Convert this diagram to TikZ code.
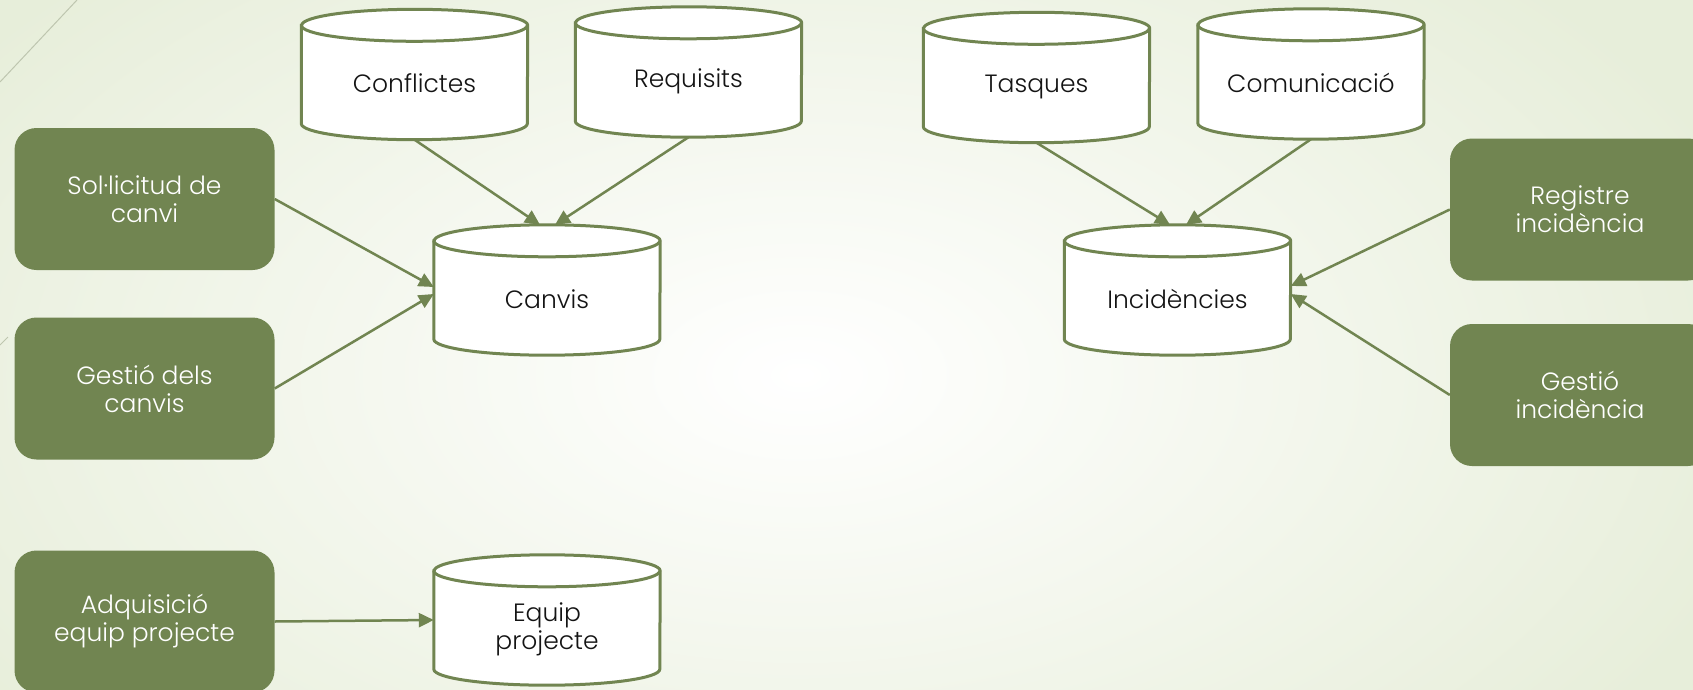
\documentclass[tikz,border=0pt]{standalone}
\usepackage{fontspec}
\setmainfont{Poppins}[UprightFont={* Light}]
\usetikzlibrary{arrows.meta,calc}
\definecolor{olivec}{RGB}{113,133,81}
\definecolor{bgc}{RGB}{231,238,218}
\definecolor{decoc}{RGB}{190,198,175}
\definecolor{txtc}{RGB}{20,20,20}
\pgfdeclarelayer{bglayer}
\pgfdeclarelayer{cyllayer}
\pgfsetlayers{bglayer,cyllayer,main}
\newcommand\drawcyl[1]{%
  \draw[cylline] ($(#1.north west)+(0,-16)$) -- ($(#1.south west)+(0,16)$)
    arc[start angle=180,end angle=360,x radius=113,y radius=16]
    -- ($(#1.north east)+(0,-16)$)
    arc[start angle=0,end angle=180,x radius=113,y radius=16] -- cycle;
  \draw[cylline,fill=none] ($(#1.north west)+(0,-16)$)
    arc[start angle=180,end angle=360,x radius=113,y radius=16];
}
\begin{document}
\begin{tikzpicture}[x=1pt,y=1pt,
  proc/.style={rectangle, rounded corners=22pt, fill=olivec, draw=none,
    minimum width=260pt, minimum height=142pt, inner sep=0pt,
    text=white, align=center, font=\fontsize{25}{28}\selectfont},
  db/.style={rectangle, draw=none, minimum width=226pt, minimum height=130pt, inner sep=0pt},
  dbtext/.style={yshift=-9pt, text=txtc, align=center, inner sep=0pt,
    font=\fontsize{25}{28}\selectfont},
  conn/.style={draw=olivec, line width=2.5pt, -{Triangle[length=15pt,width=14pt]}},
  cylline/.style={draw=olivec, line width=3pt, fill=white},
  deco/.style={draw=decoc, line width=1pt}]
\useasboundingbox (0,0) rectangle (1693,-690);
\begin{pgfonlayer}{bglayer}
  \shade[inner color=white, outer color=bgc] (-200,200) rectangle (1800,-950);
  \draw[deco] (77,0) -- (0,-82);
  \draw[deco] (8,-337) -- (0,-345);
\end{pgfonlayer}
\clip (0,0) rectangle (1693,-690);

% database cylinders
\node[db, label={[dbtext]center:Conflictes}] (conf) at (414.5,-74.5) {};
\node[db, label={[dbtext]center:Requisits}] (req) at (688.5,-72) {};
\node[db, label={[dbtext]center:Canvis}] (canvis) at (547,-290) {};
\node[db, label={[dbtext]center:Tasques}] (tasq) at (1036.5,-77.5) {};
\node[db, label={[dbtext]center:Comunicació}] (com) at (1311,-74) {};
\node[db, label={[dbtext]center:Incidències}] (inc) at (1177.5,-290) {};
\node[db, label={[dbtext]center:Equip\\projecte}] (equip) at (547,-620) {};

\begin{pgfonlayer}{cyllayer}
  \drawcyl{conf}
  \drawcyl{req}
  \drawcyl{canvis}
  \drawcyl{tasq}
  \drawcyl{com}
  \drawcyl{inc}
  \drawcyl{equip}
\end{pgfonlayer}

% process boxes
\node[proc] (sol) at (144.5,-199) {Sol·licitud de\\canvi};
\node[proc] (gdc) at (144.5,-388.5) {Gestió dels\\canvis};
\node[proc] (adq) at (144.5,-621.5) {Adquisició\\equip projecte};
\node[proc] (reg) at (1580,-209.5) {Registre\\incidència};
\node[proc] (ginc) at (1580,-395) {Gestió\\incidència};

% connectors
\draw[conn] (conf.south) -- ($(canvis.north)+(-7,0)$);
\draw[conn] (req.south) -- ($(canvis.north)+(8,0)$);
\draw[conn] (sol.east) -- ($(canvis.west)+(0,3)$);
\draw[conn] (gdc.east) -- ($(canvis.west)+(0,-4)$);
\draw[conn] (tasq.south) -- ($(inc.north)+(-7.5,0)$);
\draw[conn] (com.south) -- ($(inc.north)+(8.5,0)$);
\draw[conn] (reg.west) -- ($(inc.east)+(0,4)$);
\draw[conn] (ginc.west) -- ($(inc.east)+(0,-4)$);
\draw[conn] (adq.east) -- (equip.west);
\end{tikzpicture}
\end{document}
